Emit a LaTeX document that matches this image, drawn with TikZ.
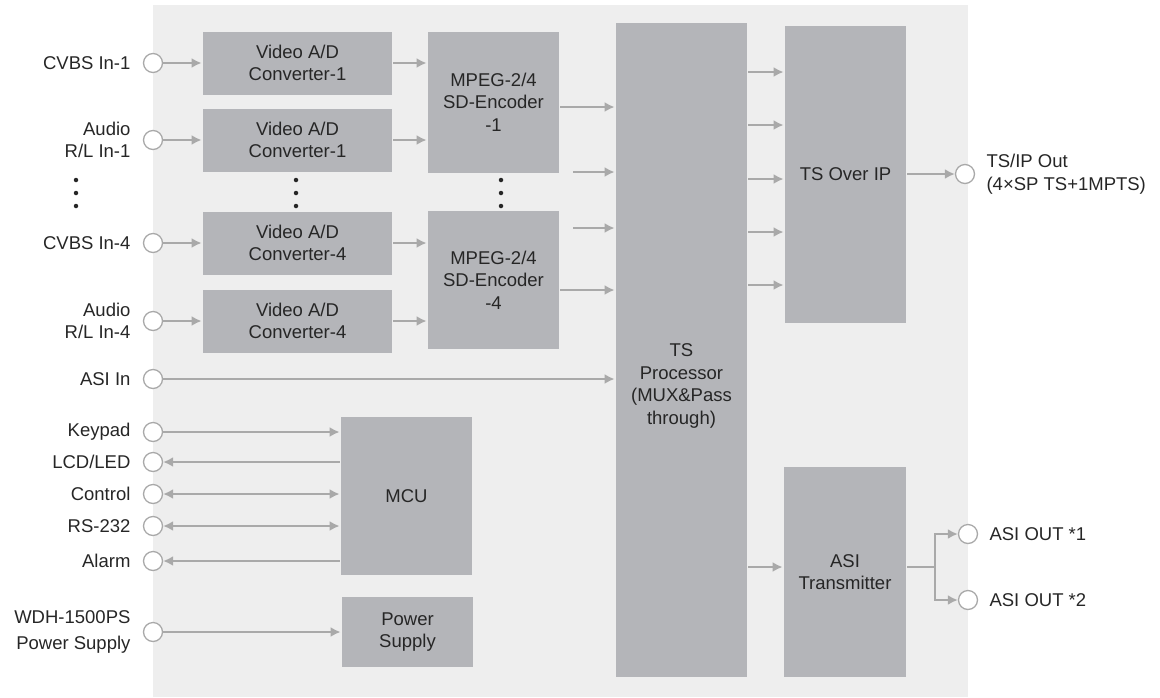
\documentclass[tikz,border=0pt]{standalone}
\usepackage{fontspec}
\setmainfont{Liberation Sans}
\usetikzlibrary{arrows.meta,positioning}

\definecolor{bggray}{HTML}{EEEEEE}
\definecolor{boxgray}{HTML}{B4B5B9}
\definecolor{linegray}{HTML}{A9A9A9}
\definecolor{txtgray}{HTML}{262626}

\begin{document}
\begin{tikzpicture}[x=1pt,y=-1pt,>={Latex[length=10pt,width=10pt]},line width=2.8pt,
  font=\fontsize{18.5}{22.5}\selectfont]
\tikzstyle{blk}=[fill=boxgray,text=txtgray,align=center,inner sep=0pt]
\tikzstyle{port}=[circle,draw=linegray,fill=white,line width=1.3pt,minimum size=19pt,inner sep=0pt]
\tikzstyle{lbl}=[text=txtgray,inner sep=0pt]
\tikzstyle{wire}=[color=linegray]
\tikzstyle{dot}=[circle,fill=txtgray,minimum size=4.5pt,inner sep=0pt]

\useasboundingbox (0,0) rectangle (1160,697);
\fill[bggray] (153,5) rectangle (968,697);

% blocks
\node[blk,minimum width=189pt,minimum height=63pt] (vad1) at (297.5,63) {Video A/D\\Converter-1};
\node[blk,minimum width=189pt,minimum height=63pt] (aad1) at (297.5,140) {Video A/D\\Converter-1};
\node[blk,minimum width=189pt,minimum height=63pt] (vad4) at (297.5,243) {Video A/D\\Converter-4};
\node[blk,minimum width=189pt,minimum height=63pt] (aad4) at (297.5,321) {Video A/D\\Converter-4};
\node[blk,minimum width=131pt,minimum height=141pt] (enc1) at (493.5,102) {MPEG-2/4\\SD-Encoder\\-1};
\node[blk,minimum width=131pt,minimum height=138pt] (enc4) at (493.5,280) {MPEG-2/4\\SD-Encoder\\-4};
\node[blk,minimum width=131pt,minimum height=654pt] (tsp) at (681.5,350) {};
\node[lbl,align=center] (tsptxt) at (681.5,386) {TS\\Processor\\(MUX\&Pass\\through)};
\node[blk,minimum width=121pt,minimum height=297pt] (tsip) at (845.5,174) {TS Over IP};
\node[blk,minimum width=122pt,minimum height=210pt] (asi) at (845,572) {ASI\\Transmitter};
\node[blk,minimum width=131pt,minimum height=158pt] (mcu) at (406.5,496) {MCU};
\node[blk,minimum width=131pt,minimum height=70pt] (pwr) at (407.5,632) {Power\\Supply};

% ports and their labels
\node[port] (pcv1) at (153,63) {};
\node[lbl,left=11pt of pcv1] (lcv1) {CVBS In-1};
\node[port] (pau1) at (153,140) {};
\node[lbl,align=right,left=11pt of pau1] (lau1) {Audio\\R/L In-1};
\node[port] (pcv4) at (153,243) {};
\node[lbl,left=11pt of pcv4] (lcv4) {CVBS In-4};
\node[port] (pau4) at (153,321) {};
\node[lbl,align=right,left=11pt of pau4] (lau4) {Audio\\R/L In-4};
\node[port] (pasi) at (153,379) {};
\node[lbl,left=11pt of pasi] (lasi) {ASI In};
\node[port] (pkey) at (153,432) {};
\node[lbl,left=11pt of pkey] (lkey) {Keypad};
\node[port] (plcd) at (153,462) {};
\node[lbl,left=11pt of plcd] (llcd) {LCD/LED};
\node[port] (pctl) at (153,494) {};
\node[lbl,left=11pt of pctl] (lctl) {Control};
\node[port] (prs) at (153,526) {};
\node[lbl,left=11pt of prs] (lrs) {RS-232};
\node[port] (palm) at (153,561) {};
\node[lbl,left=11pt of palm] (lalm) {Alarm};
\node[port] (ppwr) at (153,632) {};
\node[lbl,align=right,left=11pt of ppwr] (lpwr) {WDH-1500PS\\[4pt]Power Supply};
\node[port] (ptsip) at (965,174) {};
\node[lbl,align=left,right=10pt of ptsip] (ltsip) {TS/IP Out\\(4×SP TS+1MPTS)};
\node[port] (pao1) at (968,534) {};
\node[lbl,right=10pt of pao1] (lao1) {ASI OUT *1};
\node[port] (pao2) at (968,600) {};
\node[lbl,right=10pt of pao2] (lao2) {ASI OUT *2};

\foreach \x in {76,296,501}
  \foreach \y in {180,193,206}
    \node[dot] (d\x\y) at (\x,\y) {};

\coordinate (free1) at (573,172);
\coordinate (free2) at (573,228);
\coordinate (split) at (935,567);

% connectors
\path[wire,->] (pcv1) edge (vad1)
               (pau1) edge (aad1)
               (pcv4) edge (vad4)
               (pau4) edge (aad4)
               (vad1) edge (vad1 -| enc1.west)
               (aad1) edge (aad1 -| enc1.west)
               (vad4) edge (vad4 -| enc4.west)
               (aad4) edge (aad4 -| enc4.west)
               (enc1.east |- 0,107) edge (tsp.west |- 0,107)
               (free1) edge (free1 -| tsp.west)
               (free2) edge (free2 -| tsp.west)
               (enc4.east |- 0,290) edge (tsp.west |- 0,290)
               (pasi) edge (pasi -| tsp.west)
               (tsip.east |- ptsip) edge (ptsip)
               (tsp.east |- split) edge (asi.west |- split)
               (pkey) edge (pkey -| mcu.west)
               (plcd -| mcu.west) edge (plcd)
               (pctl) edge[<->] (pctl -| mcu.west)
               (prs) edge[<->] (prs -| mcu.west)
               (palm -| mcu.west) edge (palm)
               (ppwr) edge (ppwr -| pwr.west);
\foreach \y in {72,125,179,232,285}
  \draw[wire,->] (tsp.east |- 0,\y) -- (tsip.west |- 0,\y);
\draw[wire] (asi.east |- split) -- (split);
\draw[wire,->] (split) |- (pao1);
\draw[wire,->] (split) |- (pao2);
\end{tikzpicture}
\end{document}
